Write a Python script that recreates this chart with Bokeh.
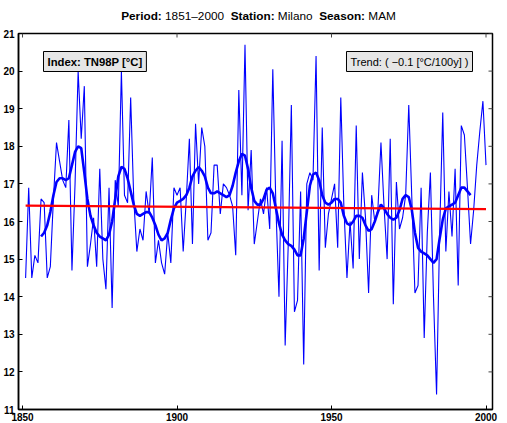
import math
from bokeh.plotting import figure
from bokeh.models import Range1d, FixedTicker, Label, Div
from bokeh.layouts import column
from bokeh.embed import file_html
from bokeh.resources import INLINE

# ---------------- data ----------------
years = list(range(1851, 2001))
tn98p = [
    14.5, 16.9, 14.5, 15.1, 14.9, 16.6, 16.5, 14.5, 14.8, 16.6,   # 1851-1860
    18.1, 17.6, 17.1, 16.9, 18.7, 14.7, 17.0, 20.0, 18.2, 19.6,   # 1861-1870
    14.8, 15.4, 16.1, 14.8, 17.4, 15.0, 14.2, 16.9, 13.7, 17.1,   # 1871-1880
    16.4, 20.0, 16.7, 16.5, 19.3, 16.6, 15.2, 15.8, 15.5, 16.8,   # 1881-1890
    16.2, 17.7, 14.9, 15.5, 14.9, 14.6, 15.7, 14.9, 16.9, 16.7,   # 1891-1900
    16.9, 15.2, 16.6, 18.2, 15.4, 18.6, 17.0, 18.5, 18.0, 15.5,   # 1901-1910
    15.7, 17.5, 17.5, 16.2, 17.0, 16.9, 16.7, 16.4, 15.1, 19.5,   # 1911-1920
    16.7, 20.7, 16.3, 17.9, 15.4, 16.0, 16.6, 16.2, 16.9, 15.8,   # 1921-1930
    20.05, 16.4, 14.0, 18.15, 12.7, 15.4, 19.1, 13.6, 13.9, 16.8, # 1931-1940
    12.2, 17.0, 17.3, 17.1, 20.4, 14.7, 18.5, 15.3, 16.2, 16.6,   # 1941-1950
    17.0, 15.3, 19.3, 16.4, 14.5, 16.0, 14.75, 18.55, 15.0, 17.3, # 1951-1960
    16.1, 14.1, 16.7, 16.0, 16.3, 18.1, 16.4, 15.0, 18.2, 13.8,   # 1961-1970
    17.05, 15.8, 16.1, 16.7, 19.1, 16.6, 14.1, 14.3, 16.9, 12.9,  # 1971-1980
    15.7, 17.3, 14.0, 11.4, 15.7, 18.9, 15.2, 16.8, 15.6, 17.4,   # 1981-1990
    14.3, 18.55, 18.3, 16.9, 15.4, 16.3, 17.5, 18.4, 19.2, 17.5,  # 1991-2000
]

smooth_years = list(range(1856, 1996))
smooth_vals = [
    15.6, 15.7, 15.9, 16.25, 16.7,                                 # 1856-1860
    17.05, 17.15, 17.15, 17.1, 17.15, 17.5, 17.85, 18.0, 17.95, 17.3,  # 1861-1870
    16.6, 16.15, 15.9, 15.7, 15.6, 15.55, 15.5, 15.65, 16.0, 16.6,     # 1871-1880
    17.2, 17.45, 17.4, 17.15, 16.8, 16.45, 16.2, 16.15, 16.2, 16.25,   # 1881-1890
    16.25, 16.1, 15.9, 15.65, 15.5, 15.55, 15.7, 16.05, 16.35, 16.5,   # 1891-1900
    16.55, 16.6, 16.7, 16.9, 17.2, 17.35, 17.45, 17.35, 17.2, 16.9,    # 1901-1910
    16.75, 16.75, 16.8, 16.75, 16.7, 16.65, 16.7, 16.95, 17.3, 17.6,   # 1911-1920
    17.8, 17.75, 17.4, 16.9, 16.55, 16.45, 16.45, 16.6, 16.85, 16.9,   # 1921-1930
    16.75, 16.35, 15.95, 15.65, 15.5, 15.4, 15.35, 15.25, 15.1, 15.1,  # 1931-1940
    15.55, 16.25, 16.95, 17.25, 17.3, 17.1, 16.7, 16.5, 16.45, 16.5,   # 1941-1950
    16.6, 16.6, 16.5, 16.15, 15.95, 15.9, 16.0, 16.15, 16.15, 16.1,    # 1951-1960
    15.9, 15.75, 15.8, 16.0, 16.25, 16.45, 16.35, 16.2, 16.1, 16.05,   # 1961-1970
    16.1, 16.3, 16.6, 16.7, 16.65, 16.3, 15.7, 15.3, 15.2, 15.15,      # 1971-1980
    15.1, 15.0, 14.9, 15.0, 15.55, 16.05, 16.35, 16.4, 16.45, 16.5,    # 1981-1990
    16.7, 16.9, 16.9, 16.8, 16.7,                                      # 1991-1995
]

trend_years = [1851, 2000]
trend_vals = [16.42, 16.33]

x_ticks = [1850, 1900, 1950, 2000]
y_ticks = [11, 12, 13, 14, 15, 16, 17, 18, 19, 20, 21]

X0, X1 = 1848.7, 2002.1
Y0, Y1 = 11, 21
FONT = "Liberation Sans"

# ---------------- title (mixed bold / normal) ----------------
title = Div(
    text=('<div style="font-family:\'Liberation Sans\';font-size:11.8px;'
          'color:black;text-align:center;line-height:17px;'
          'width:499px;box-sizing:border-box;padding-left:8px;'
          'padding-top:3px;white-space:nowrap">'
          '<b>Period:</b> 1851\u20132000&nbsp; <b>Station:</b> Milano&nbsp; '
          '<b>Season:</b> MAM</div>'),
    width=499, height=17,
)

# ---------------- figure ----------------
p = figure(width=499, height=398,
           x_range=Range1d(X0, X1), y_range=Range1d(Y0, Y1),
           output_backend="svg", toolbar_location=None,
           min_border_left=15, min_border_right=7,
           min_border_top=6, min_border_bottom=16)
p.grid.visible = False
p.background_fill_color = "white"
p.border_fill_color = "white"
p.outline_line_color = "black"
p.outline_line_width = 1.5

for ax, tk in ((p.xaxis[0], x_ticks), (p.yaxis[0], y_ticks)):
    ax.ticker = FixedTicker(ticks=tk)
    ax.major_tick_in = 4
    ax.major_tick_out = 0
    ax.minor_tick_line_color = None
    ax.axis_line_width = 1.5
    ax.axis_line_color = "black"
    ax.major_tick_line_color = "black"
    ax.major_label_text_font = FONT
    ax.major_label_text_font_style = "bold"
    ax.major_label_text_font_size = "10px"
    ax.major_label_text_color = "black"
p.yaxis[0].major_label_standoff = 4
p.xaxis[0].major_label_standoff = 3

# mirrored inward ticks on the right and top frame edges
p.scatter([X1] * len(y_ticks), y_ticks, marker="dash", size=8,
          line_color="#444444", line_width=1)
p.scatter(x_ticks, [Y1] * len(x_ticks), marker="dash", size=8,
          angle=math.pi / 2, line_color="#444444", line_width=1)

# ---------------- series ----------------
p.line(years, tn98p, line_color="#0000ff", line_width=1.1)
p.line(smooth_years, smooth_vals, line_color="#0000ff", line_width=2.6)
p.line(trend_years, trend_vals, line_color="#ff0000", line_width=2.2)

# ---------------- boxed notes ----------------
p.add_layout(Label(x=X0, y=Y1, x_offset=25, y_offset=-28,
                   text="Index: TN98P [\u00b0C]", text_font=FONT,
                   text_font_style="bold", text_font_size="11.3px",
                   text_color="black", text_align="left", text_baseline="middle",
                   background_fill_color="#e6e6e6", border_line_color="black",
                   border_line_width=1, padding=4))
p.add_layout(Label(x=X1, y=Y1, x_offset=-20, y_offset=-28,
                   text="Trend: ( \u22120.1 [\u00b0C/100y] )", text_font=FONT,
                   text_font_size="11px", text_color="black",
                   text_align="right", text_baseline="middle",
                   background_fill_color="#e6e6e6", border_line_color="black",
                   border_line_width=1, padding=4))

layout = column(title, p, spacing=0)
open("out.html", "w").write(file_html(layout, INLINE))
